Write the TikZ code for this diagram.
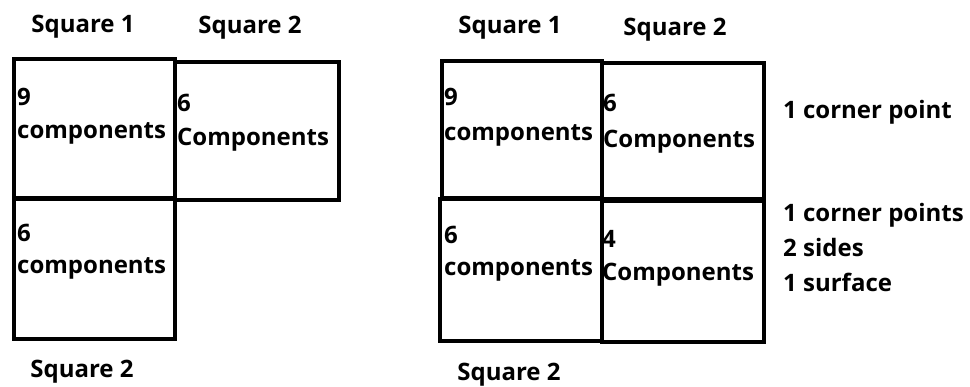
\documentclass[tikz,border=0pt]{standalone}
\usepackage{fontspec}
\setmainfont{Open Sans}
\begin{document}
\begin{tikzpicture}[x=1pt,y=-1pt,
  box/.style={draw=black,line width=4pt,inner sep=0pt,anchor=north west},
  lbl/.style={font=\bfseries\fontsize{24}{28}\selectfont,inner sep=0pt,anchor=west},
  ttl/.style={font=\bfseries\fontsize{24}{28}\selectfont,inner sep=0pt}]
\useasboundingbox (0,0) rectangle (970,387);
% left group
\node[box,minimum width=161pt,minimum height=139pt] (a1) at (12,57) {};
\node[box,minimum width=164pt,minimum height=138pt] (a2) at (173,60) {};
\node[box,minimum width=161pt,minimum height=140pt] (a3) at (12,197) {};
\node[ttl] (t1) at (83,27) {Square 1};
\node[ttl] (t2) at (250,28) {Square 2};
\node[ttl] (t3) at (82,372) {Square 2};
\node[lbl] (a1n) at (17,97) {9};
\node[lbl] (a1c) at (17,133) {components};
\node[lbl] (a2n) at (177,103) {6};
\node[lbl] (a2c) at (177,140) {Components};
\node[lbl] (a3n) at (17,233) {6};
\node[lbl] (a3c) at (17,268) {components};
% right group
\node[box,minimum width=160pt,minimum height=137pt] (b1) at (440,59) {};
\node[box,minimum width=162pt,minimum height=136pt] (b2) at (600,61) {};
\node[box,minimum width=162pt,minimum height=142pt] (b3) at (438,197) {};
\node[box,minimum width=162pt,minimum height=141pt] (b4) at (600,199) {};
\node[ttl] (u1) at (510,28) {Square 1};
\node[ttl] (u2) at (675,30) {Square 2};
\node[ttl] (u3) at (509,375) {Square 2};
\node[lbl] (b1n) at (444,97) {9};
\node[lbl] (b1c) at (444,135) {components};
\node[lbl] (b2n) at (603,103) {6};
\node[lbl] (b2c) at (603,142) {Components};
\node[lbl] (b3n) at (444,235) {6};
\node[lbl] (b3c) at (444,270) {components};
\node[lbl] (b4n) at (602,239) {4};
\node[lbl] (b4c) at (602,275) {Components};
\node[lbl] (r1) at (783,112) {1 corner point};
\node[lbl] (r2) at (783,215) {1 corner points};
\node[lbl] (r3) at (783,248) {2 sides};
\node[lbl] (r4) at (783,282) {1 surface};
\end{tikzpicture}
\end{document}
